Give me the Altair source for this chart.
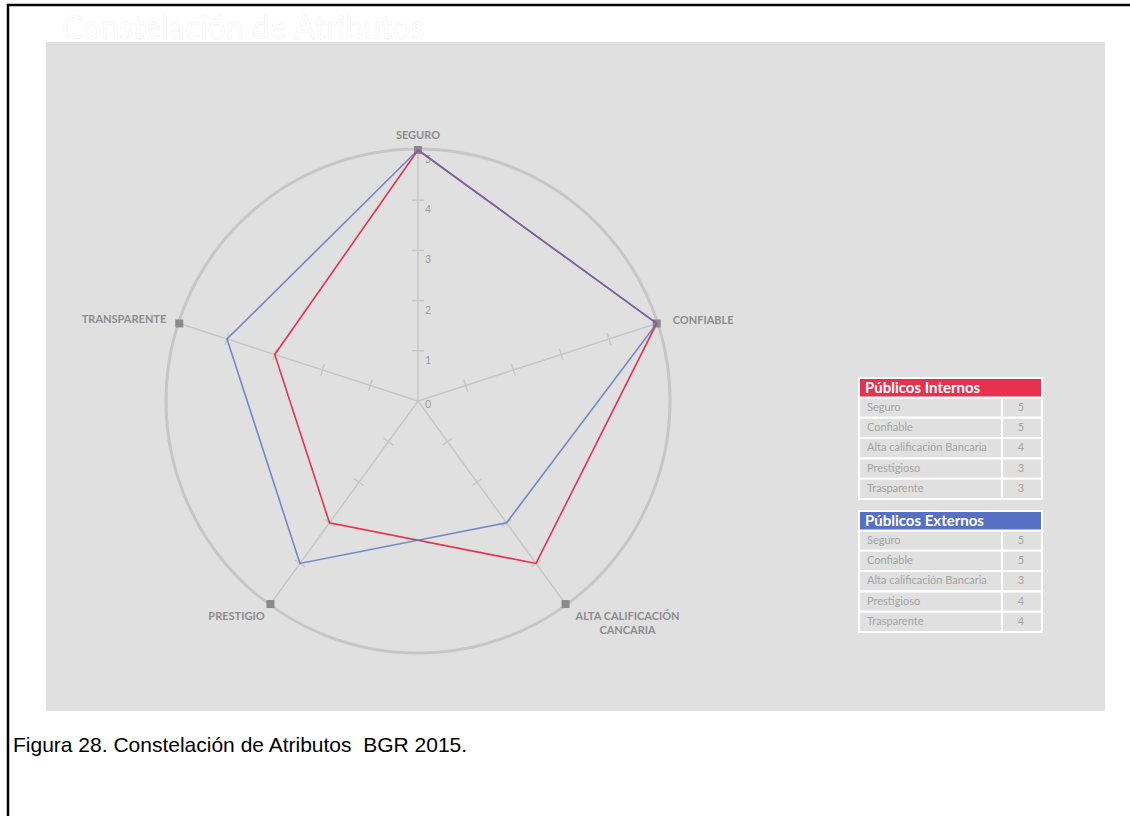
import math
import altair as alt
import pandas as pd

# ---------------- data ----------------
categories = ["SEGURO", "CONFIABLE", "ALTA CALIFICACIÓN\nCANCARIA", "PRESTIGIO", "TRANSPARENTE"]
internos = [5, 5, 4, 3, 3]
externos = [5, 5, 3, 4, 4]
scale_values = [0, 1, 2, 3, 4, 5]
tick_values = [1, 2, 3, 4]
table_rows = ["Seguro", "Confiable", "Alta calificación Bancaria", "Prestigioso", "Trasparente"]
table_internos = [5, 5, 4, 3, 3]
table_externos = [5, 5, 3, 4, 4]
series_names = ["Públicos Internos", "Públicos Externos"]
title_text = "Constelación de Atributos"
caption_text = "Figura 28. Constelación de Atributos\u00a0 BGR 2015."

# ---------------- layout / style ----------------
RED = "#e8304f"
BLUE = "#5570c4"
GRID = "#c6c6c6"
W, H = 1130, 816
CX, CY, K = 418, 401, 50.2   # radar centre (px) and px per unit
MAXV = 5
FONT = "Lato"

def ux(px):
    return (px - CX) / K

def uy(py):
    return (CY - py) / K

angles = [math.radians(90 - 72 * i) for i in range(len(categories))]

XS = alt.Scale(domain=[ux(0), ux(W)], nice=False, zero=False)
YS = alt.Scale(domain=[uy(H), uy(0)], nice=False, zero=False)

def X(f):
    return alt.X(f, type="quantitative", scale=XS, axis=None)

def Y(f):
    return alt.Y(f, type="quantitative", scale=YS, axis=None)

one = pd.DataFrame({"x": [0.0], "y": [0.0]})

# background panel
panel = alt.Chart(one).mark_rect(color="#e0e0e0").encode(
    x=alt.value(46), x2=alt.value(1105), y=alt.value(42), y2=alt.value(711))

# outer circle
circle = alt.Chart(one).mark_point(
    shape="circle", filled=False, size=504 ** 2, stroke=GRID, strokeWidth=3, opacity=1
).encode(x=X("x"), y=Y("y"))

# axes
axes_df = pd.DataFrame({
    "cat": categories,
    "x0": [0.0] * 5, "y0": [0.0] * 5,
    "x5": [MAXV * math.cos(a) for a in angles],
    "y5": [MAXV * math.sin(a) for a in angles],
})
axes = alt.Chart(axes_df).mark_rule(color=GRID, strokeWidth=1.5).encode(
    x=X("x0"), y=Y("y0"), x2="x5", y2="y5")

# ticks
hl = 6 / K
tick_rows = []
for a in angles:
    for v in tick_values:
        cx, cy = v * math.cos(a), v * math.sin(a)
        px, py = -math.sin(a), math.cos(a)
        tick_rows.append({"xa": cx - hl * px, "ya": cy - hl * py,
                          "xb": cx + hl * px, "yb": cy + hl * py})
ticks = alt.Chart(pd.DataFrame(tick_rows)).mark_rule(color=GRID, strokeWidth=1.5).encode(
    x=X("xa"), y=Y("ya"), x2="xb", y2="yb")

# tick labels on the vertical axis
tl_df = pd.DataFrame({"x": [0.0] * len(scale_values), "y": scale_values,
                      "t": [str(v) for v in scale_values]})
tick_labels = alt.Chart(tl_df).transform_filter("datum.y > 0").mark_text(
    align="left", baseline="middle", dx=7, dy=10, fontSize=10.5, color="#9a9a9a", font=FONT
).encode(x=X("x"), y=Y("y"), text="t:N")
tick_label0 = alt.Chart(tl_df).transform_filter("datum.y == 0").mark_text(
    align="left", baseline="middle", dx=7, dy=4, fontSize=10.5, color="#9a9a9a", font=FONT
).encode(x=X("x"), y=Y("y"), text="t:N")

# square markers
markers = alt.Chart(axes_df).mark_square(size=64, color="#8a8a8a", opacity=1).encode(
    x=X("x5"), y=Y("y5"))

# series polygons
def poly(vals, name):
    rows = []
    for k in range(len(vals) + 1):
        i = k % len(vals)
        rows.append({"series": name, "k": k,
                     "x": vals[i] * math.cos(angles[i]),
                     "y": vals[i] * math.sin(angles[i])})
    return pd.DataFrame(rows)

line_int = alt.Chart(poly(internos, series_names[0])).mark_line(
    color=RED, strokeWidth=1.6).encode(x=X("x"), y=Y("y"), order="k:Q")
line_ext = alt.Chart(poly(externos, series_names[1])).mark_line(
    color=BLUE, strokeWidth=1.6, opacity=0.8).encode(x=X("x"), y=Y("y"), order="k:Q")

# category labels
label_style = [
    dict(align="center", baseline="middle", dx=0, dy=-14),
    dict(align="left", baseline="middle", dx=16, dy=-2),
    dict(align="center", baseline="top", dx=62, dy=7),
    dict(align="center", baseline="middle", dx=-34, dy=13),
    dict(align="right", baseline="middle", dx=-13, dy=-3),
]
cat_layers = []
for i, st in enumerate(label_style):
    cat_layers.append(
        alt.Chart(axes_df.iloc[[i]]).mark_text(
            fontSize=11, fontWeight="bold", color="#8c8c8c", font=FONT,
            lineBreak="\n", lineHeight=14, **st
        ).encode(x=X("x5"), y=Y("y5"), text="cat:N")
    )

# tables
table_tops = [378, 511]
header_h = 19.5
row_h = 20.3
hdr_rows, cell_rows = [], []
for t, vals in enumerate([table_internos, table_externos]):
    top = table_tops[t]
    hdr_rows.append({"name": series_names[t], "y1": uy(top), "y2": uy(top + header_h),
                     "ym": uy(top + header_h / 2)})
    for r, (lab, val) in enumerate(zip(table_rows, vals)):
        yt = top + header_h + r * row_h
        cell_rows.append({"lab": lab, "val": str(val), "y1": uy(yt), "y2": uy(yt + row_h),
                          "ym": uy(yt + row_h / 2)})
hdr_df = pd.DataFrame(hdr_rows)
cell_df = pd.DataFrame(cell_rows)

hdr_rect = alt.Chart(hdr_df).mark_rect(stroke="white", strokeWidth=2).encode(
    x=alt.value(859), x2=alt.value(1042), y=Y("y1"), y2="y2",
    color=alt.Color("name:N", scale=alt.Scale(domain=series_names, range=[RED, BLUE]), legend=None))
hdr_text = alt.Chart(hdr_df).mark_text(
    align="left", baseline="middle", fontSize=15, fontWeight="bold", color="white", font=FONT
).encode(x=alt.value(865), y=Y("ym"), text="name:N")
lab_rect = alt.Chart(cell_df).mark_rect(fill="#e0e0e0", stroke="white", strokeWidth=2).encode(
    x=alt.value(859), x2=alt.value(1002), y=Y("y1"), y2="y2")
val_rect = alt.Chart(cell_df).mark_rect(fill="#e0e0e0", stroke="white", strokeWidth=2).encode(
    x=alt.value(1002), x2=alt.value(1042), y=Y("y1"), y2="y2")
lab_text = alt.Chart(cell_df).mark_text(
    align="left", baseline="middle", fontSize=11, color="#a4a4a4", font=FONT
).encode(x=alt.value(867), y=Y("ym"), text="lab:N")
val_text = alt.Chart(cell_df).mark_text(
    align="center", baseline="middle", fontSize=11, color="#a4a4a4", font=FONT
).encode(x=alt.value(1021), y=Y("ym"), text="val:N")

# title and caption
title = alt.Chart(pd.DataFrame({"t": [title_text]})).mark_text(
    align="left", baseline="alphabetic", fontSize=32, color="white", stroke="#f0f0f0",
    strokeWidth=0.5, font=FONT
).encode(x=alt.value(62), y=alt.value(39), text="t:N")
caption = alt.Chart(pd.DataFrame({"t": [caption_text]})).mark_text(
    align="left", baseline="alphabetic", fontSize=21, color="black", font="Liberation Sans"
).encode(x=alt.value(13), y=alt.value(752), text="t:N")

# frame lines
frame_left = alt.Chart(one).mark_rule(color="black", strokeWidth=2.5).encode(
    x=alt.value(8), y=alt.value(4), y2=alt.value(816))
frame_top = alt.Chart(one).mark_rule(color="black", strokeWidth=2.5).encode(
    x=alt.value(7), x2=alt.value(1130), y=alt.value(5))

chart = alt.layer(
    panel, title, circle, axes, ticks, tick_labels, tick_label0, markers,
    line_int, line_ext, *cat_layers,
    lab_rect, val_rect, hdr_rect, hdr_text, lab_text, val_text,
    caption, frame_left, frame_top,
).properties(
    width=W, height=H, padding=0, background="white",
    autosize=alt.AutoSizeParams(type="none"),
).configure_view(stroke=None)

chart.save("out.html", embed_options={"renderer": "svg", "actions": False})
